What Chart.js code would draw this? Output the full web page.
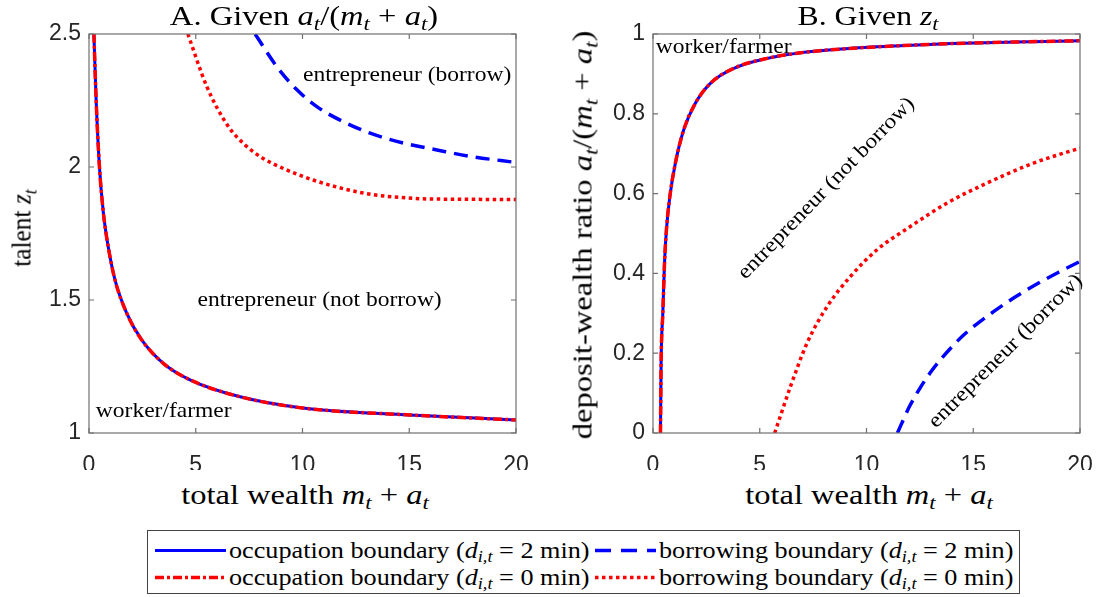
<!DOCTYPE html>
<html>
<head>
<meta charset="utf-8">
<title>Occupation and borrowing boundaries</title>
<script src="https://cdn.jsdelivr.net/npm/chart.js@4.4.1/dist/chart.umd.min.js"></script>
<style>
  body { margin: 0; background: #fff; }
  #page { position: relative; width: 1097px; height: 597px; overflow: hidden; }
  canvas { position: absolute; top: 0; }
  .tex {
    position: absolute;
    font-family: "Liberation Serif", "Times New Roman", serif;
    font-size: 27px;
    color: #000;
    white-space: nowrap;
    line-height: 1;
    transform: translate(-50%, -50%);
  }
  sub { font-size: 70%; vertical-align: -0.3em; line-height: 0; }
  .rot { transform: translate(-50%, -50%) rotate(-90deg); }
  #legend {
    position: absolute; left: 147px; top: 530px; width: 873px; height: 64px;
    border: 1px solid #444; box-sizing: border-box; background: #fff;
  }
  .item {
    position: absolute; display: flex; align-items: center;
    font-family: "Liberation Serif", "Times New Roman", serif; font-size: 23px;
    white-space: nowrap; transform: translateY(-50%); line-height: 1;
  }
  .item svg { margin-right: 3px; }
  .item span { display: inline-block; transform-origin: left center; }
</style>
</head>
<body>
<div id="page">
  <canvas id="chartA" width="540" height="470" style="left:0"></canvas>
  <canvas id="chartB" width="537" height="470" style="left:560px"></canvas>

  <div class="tex" data-w="268" style="left:304px; top:16px">A. Given <i>a</i><sub><i>t</i></sub>/(<i>m</i><sub><i>t</i></sub> + <i>a</i><sub><i>t</i></sub>)</div>
  <div class="tex" data-w="141" style="left:868px; top:16px">B. Given <i>z</i><sub><i>t</i></sub></div>
  <div class="tex" data-w="248" style="left:305px; top:495px">total wealth <i>m</i><sub><i>t</i></sub> + <i>a</i><sub><i>t</i></sub></div>
  <div class="tex" data-w="248" style="left:869px; top:495px">total wealth <i>m</i><sub><i>t</i></sub> + <i>a</i><sub><i>t</i></sub></div>
  <div class="tex rot" data-w="78" style="left:22px; top:228px">talent <i>z</i><sub><i>t</i></sub></div>
  <div class="tex rot" data-w="408" style="left:583px; top:235px">deposit-wealth ratio <i>a</i><sub><i>t</i></sub>/(<i>m</i><sub><i>t</i></sub> + <i>a</i><sub><i>t</i></sub>)</div>

  <div id="legend">
    <div class="item" style="left:7px; top:19px">
      <svg width="71" height="12"><line x1="0" y1="6" x2="71" y2="6" stroke="#0000ff" stroke-width="3"/></svg>
      <span data-w="361">occupation boundary (<i>d</i><sub><i>i,t</i></sub> = 2 min)</span>
    </div>
    <div class="item" style="left:447px; top:19px">
      <svg width="61" height="12"><line x1="0" y1="6" x2="61" y2="6" stroke="#0000ff" stroke-width="3.5" stroke-dasharray="16 10"/></svg>
      <span data-w="355">borrowing boundary (<i>d</i><sub><i>i,t</i></sub> = 2 min)</span>
    </div>
    <div class="item" style="left:7px; top:46px">
      <svg width="71" height="12"><line x1="0" y1="6" x2="71" y2="6" stroke="#ff0000" stroke-width="3.5" stroke-dasharray="9 3 3 3"/></svg>
      <span data-w="361">occupation boundary (<i>d</i><sub><i>i,t</i></sub> = 0 min)</span>
    </div>
    <div class="item" style="left:447px; top:46px">
      <svg width="61" height="12"><line x1="0" y1="6" x2="61" y2="6" stroke="#ff0000" stroke-width="3.5" stroke-dasharray="3.5 3.5"/></svg>
      <span data-w="355">borrowing boundary (<i>d</i><sub><i>i,t</i></sub> = 0 min)</span>
    </div>
  </div>
</div>

<script>
// Panel A: talent thresholds against total wealth
const wealthOccA = [0.23, 0.33, 0.49, 0.67, 0.9, 1.22, 1.77, 2.47, 3.48, 4.73, 7.08, 10, 15, 20];
const talentOccA2 = [2.5, 2.26, 2.0, 1.83, 1.70, 1.575, 1.45, 1.35, 1.262, 1.20, 1.136, 1.094, 1.068, 1.049];
const talentOccA0 = [2.5, 2.26, 2.0, 1.83, 1.70, 1.575, 1.45, 1.35, 1.262, 1.20, 1.136, 1.094, 1.068, 1.049];

const wealthBorA2 = [7.78, 8.8, 9.74, 10.67, 11.92, 13.17, 14.73, 16.3, 17.86, 20];
const talentBorA2 = [2.5, 2.377, 2.29, 2.227, 2.17, 2.127, 2.09, 2.064, 2.04, 2.017];

const wealthBorA0 = [4.63, 5.52, 6.52, 7.31, 8.02, 8.95, 10.5, 12.85, 15.19, 16.93, 20];
const talentBorA0 = [2.5, 2.302, 2.153, 2.083, 2.039, 2.0, 1.951, 1.902, 1.882, 1.879, 1.878];

// Panel B: deposit-wealth ratio thresholds against total wealth
const wealthOccB = [0.35, 0.38, 0.46, 0.54, 0.63, 0.79, 1.05, 1.44, 1.99, 2.70, 3.79, 5.35, 6.92, 9, 11.3, 14, 17, 20];
const ratioOccB2 = [0, 0.177, 0.30, 0.427, 0.51, 0.593, 0.677, 0.76, 0.827, 0.877, 0.914, 0.939, 0.953, 0.963, 0.97, 0.976, 0.98, 0.983];
const ratioOccB0 = [0, 0.177, 0.30, 0.427, 0.51, 0.593, 0.677, 0.76, 0.827, 0.877, 0.914, 0.939, 0.953, 0.963, 0.97, 0.976, 0.98, 0.983];

const wealthBorB2 = [11.45, 12.0, 12.5, 13.0, 13.5, 14.0, 14.5, 15.0, 16.0, 17.0, 18.0, 19.0, 20.0];
const ratioBorB2 = [0, 0.065, 0.112, 0.152, 0.186, 0.216, 0.243, 0.266, 0.306, 0.342, 0.374, 0.403, 0.43];

const wealthBorB0 = [5.70, 6.45, 7.23, 8.17, 9.26, 10.51, 12.07, 13.79, 15.67, 17.85, 20];
const ratioBorB0 = [0, 0.118, 0.227, 0.318, 0.393, 0.46, 0.518, 0.577, 0.627, 0.677, 0.714];

const wealthTicks = [0, 5, 10, 15, 20];
const talentTicks = [1, 1.5, 2, 2.5];
const ratioTicks = [0, 0.2, 0.4, 0.6, 0.8, 1];

const pts = (xs, ys) => xs.map((x, i) => ({ x: x, y: ys[i] }));

// stretch the serif labels to their set widths
document.querySelectorAll("[data-w]").forEach((el) => {
    const k = +el.dataset.w / el.offsetWidth;
    if (el.tagName === "SPAN") {
        el.style.transform = "scaleX(" + k + ")";
    } else {
        const rot = el.classList.contains("rot") ? " rotate(-90deg)" : "";
        el.style.transform = "translate(-50%, -50%)" + rot + " scaleX(" + k + ")";
    }
});

// red lines sit on top of the blue ones (lower order draws last)
function line(xs, ys, color, width, dash, order) {
    return {
        data: pts(xs, ys),
        borderColor: color,
        borderWidth: width,
        borderDash: dash,
        borderCapStyle: "butt",
        pointRadius: 0,
        fill: false,
        cubicInterpolationMode: "monotone",
        clip: 0,
        order: order,
    };
}

// axis box with inward ticks on all four sides
const framePlugin = {
    id: "frame",
    afterDatasetsDraw(chart) {
        const { ctx, chartArea: a, scales } = chart;
        ctx.save();
        ctx.strokeStyle = "#707070";
        ctx.lineWidth = 1.2;
        ctx.strokeRect(a.left, a.top, a.right - a.left, a.bottom - a.top);
        ctx.beginPath();
        scales.x.ticks.forEach((t) => {
            const px = scales.x.getPixelForValue(t.value);
            ctx.moveTo(px, a.bottom); ctx.lineTo(px, a.bottom - 5);
            ctx.moveTo(px, a.top); ctx.lineTo(px, a.top + 5);
        });
        scales.y.ticks.forEach((t) => {
            const py = scales.y.getPixelForValue(t.value);
            ctx.moveTo(a.left, py); ctx.lineTo(a.left + 5, py);
            ctx.moveTo(a.right, py); ctx.lineTo(a.right - 5, py);
        });
        ctx.stroke();
        ctx.restore();
    },
};

// region names placed in data units
const regionsPlugin = {
    id: "regions",
    afterDatasetsDraw(chart, args, opts) {
        const { ctx, scales } = chart;
        ctx.save();
        ctx.fillStyle = "#000";
        ctx.font = '21px "Liberation Serif"';
        ctx.textAlign = "center";
        ctx.textBaseline = "middle";
        (opts.items || []).forEach((it) => {
            ctx.save();
            ctx.translate(scales.x.getPixelForValue(it.x), scales.y.getPixelForValue(it.y));
            ctx.rotate(((it.angle || 0) * Math.PI) / 180);
            ctx.scale(1.12, 1);
            ctx.fillText(it.text, 0, 0);
            ctx.restore();
        });
        ctx.restore();
    },
};

const tickFont = { family: '"Liberation Sans", Arial, sans-serif', size: 23 };
const tickLabel = (v) => String(Math.round(v * 100) / 100);

function makeChart(id, yMin, yMax, yTicks, yWidth, padRight, datasets, items) {
    return new Chart(document.getElementById(id), {
        type: "line",
        data: { datasets: datasets },
        plugins: [framePlugin, regionsPlugin],
        options: {
            responsive: false,
            animation: false,
            events: [],
            layout: { padding: { top: 34, right: padRight, left: 0, bottom: 0 } },
            plugins: {
                legend: { display: false },
                tooltip: { enabled: false },
                regions: { items: items },
            },
            scales: {
                x: {
                    type: "linear",
                    min: wealthTicks[0],
                    max: wealthTicks[wealthTicks.length - 1],
                    afterBuildTicks: (s) => { s.ticks = wealthTicks.map((v) => ({ value: v })); },
                    afterFit: (s) => {
                        s.height = 37;
                        s.paddingLeft = 0;
                        s.paddingRight = 0;
                    },
                    grid: { display: false, drawTicks: false },
                    border: { display: false },
                    ticks: { font: tickFont, color: "#262626", padding: 19, maxRotation: 0, autoSkip: false, callback: tickLabel },
                },
                y: {
                    type: "linear",
                    min: yMin,
                    max: yMax,
                    afterBuildTicks: (s) => { s.ticks = yTicks.map((v) => ({ value: v })); },
                    afterFit: (s) => {
                        s.width = yWidth;
                        s.paddingTop = 0;
                        s.paddingBottom = 0;
                    },
                    grid: { display: false, drawTicks: false },
                    border: { display: false },
                    ticks: { font: tickFont, color: "#262626", padding: 8, autoSkip: false, callback: tickLabel },
                },
            },
        },
    });
}

makeChart("chartA", 1, 2.5, talentTicks, 89, 24, [
    line(wealthOccA, talentOccA0, "#ff0000", 3.5, [9, 3, 3, 3], 0),
    line(wealthOccA, talentOccA2, "#0000ff", 3, [], 1),
    line(wealthBorA2, talentBorA2, "#0000ff", 3.5, [14, 8], 2),
    line(wealthBorA0, talentBorA0, "#ff0000", 3.5, [3.5, 3.5], 3),
], [
    { text: "entrepreneur (borrow)", x: 14.9, y: 2.345 },
    { text: "entrepreneur (not borrow)", x: 10.8, y: 1.5 },
    { text: "worker/farmer", x: 3.5, y: 1.081 },
]);

makeChart("chartB", 0, 1, ratioTicks, 93, 17, [
    line(wealthOccB, ratioOccB0, "#ff0000", 3.5, [9, 3, 3, 3], 0),
    line(wealthOccB, ratioOccB2, "#0000ff", 3, [], 1),
    line(wealthBorB2, ratioBorB2, "#0000ff", 3.5, [14, 8], 2),
    line(wealthBorB0, ratioBorB0, "#ff0000", 3.5, [3.5, 3.5], 3),
], [
    { text: "worker/farmer", x: 3.31, y: 0.966 },
    { text: "entrepreneur (not borrow)", x: 8.12, y: 0.613, angle: -46 },
    { text: "entrepreneur (borrow)", x: 16.52, y: 0.205, angle: -45 },
]);
</script>
</body>
</html>
